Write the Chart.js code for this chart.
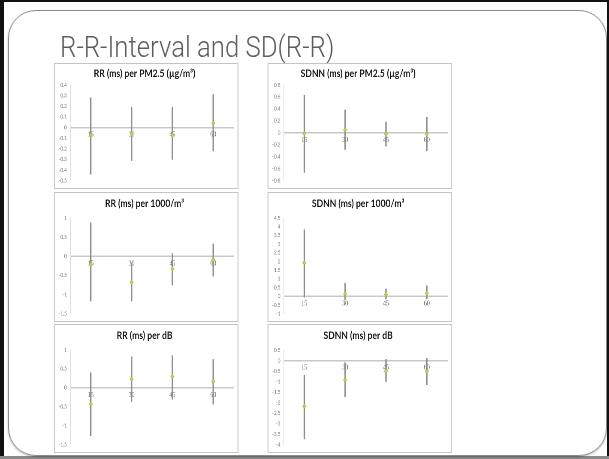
<!DOCTYPE html>
<html>
<head>
<meta charset="utf-8">
<script src="https://cdn.jsdelivr.net/npm/chart.js@4.4.1/dist/chart.umd.min.js"></script>
<style>
  html, body { margin: 0; padding: 0; background: #fff; }
  #page { position: relative; width: 609px; height: 459px; overflow: hidden; background: #fff; }
  #frame { position: absolute; left: 0; top: 0; width: 603px; height: 457px; border-left: 4px solid #111; border-top: 2px solid #111; border-right: 2px solid #111; }
  #bottomband { position: absolute; left: 0; top: 456px; width: 609px; height: 3px; background: #8a8a8a; }
  #slide { position: absolute; left: 8px; top: 10px; width: 597px; height: 444px; border: 1px solid #8c8c8c; border-radius: 28px; box-shadow: 0 1px 2px rgba(0,0,0,0.3); }
  /* the slide content is laid out wider and squeezed horizontally, like the picture */
  #content { position: absolute; left: 0; top: 0; width: 710px; height: 459px; transform: scaleX(0.8577); transform-origin: 0 0; }
  #title { position: absolute; left: 70px; top: 29px; font-family: Roboto, "Liberation Sans", sans-serif; font-weight: 300; font-size: 30px; color: #5e5e5e; white-space: nowrap; }
  .panel { position: absolute; border: 1px solid #c4c4c4; background: #fff; }
  .panel canvas { display: block; }
</style>
</head>
<body>
<div id="page">
  <div id="frame"></div>
  <div id="bottomband"></div>
  <div id="slide"></div>
  <div id="content">
    <div id="title">R-R-Interval and SD(R-R)</div>
    <div class="panel" style="left:63px;top:63px"><canvas id="c1"></canvas></div>
    <div class="panel" style="left:312px;top:63px"><canvas id="c2"></canvas></div>
    <div class="panel" style="left:63px;top:192px"><canvas id="c3"></canvas></div>
    <div class="panel" style="left:312px;top:192px"><canvas id="c4"></canvas></div>
    <div class="panel" style="left:63px;top:324px"><canvas id="c5"></canvas></div>
    <div class="panel" style="left:312px;top:324px"><canvas id="c6"></canvas></div>
  </div>
</div>
<script>
// lag categories (minutes)
const categories = ['15', '30', '45', '60'];

// RR (ms) per PM2.5
const rrPmMean = [-0.07, -0.06, -0.07, 0.04];
const rrPmLow = [-0.44, -0.31, -0.30, -0.22];
const rrPmHigh = [0.28, 0.19, 0.19, 0.31];
const rrPmTicks = [0.4, 0.3, 0.2, 0.1, 0, -0.1, -0.2, -0.3, -0.4, -0.5];

// SDNN (ms) per PM2.5
const sdPmMean = [-0.01, 0.05, -0.02, -0.02];
const sdPmLow = [-0.66, -0.28, -0.22, -0.30];
const sdPmHigh = [0.63, 0.38, 0.18, 0.26];
const sdPmTicks = [0.8, 0.6, 0.4, 0.2, 0, -0.2, -0.4, -0.6, -0.8];

// RR (ms) per 1000/m3
const rrUfMean = [-0.22, -0.68, -0.33, -0.10];
const rrUfLow = [-1.17, -1.17, -0.75, -0.52];
const rrUfHigh = [0.87, -0.17, 0.07, 0.32];
const rrUfTicks = [1, 0.5, 0, -0.5, -1, -1.5];

// SDNN (ms) per 1000/m3
const sdUfMean = [1.93, 0.13, 0.10, 0.17];
const sdUfLow = [-0.05, -0.20, -0.15, -0.15];
const sdUfHigh = [3.82, 0.75, 0.42, 0.60];
const sdUfTicks = [4.5, 4, 3.5, 3, 2.5, 2, 1.5, 1, 0.5, 0, -0.5, -1];

// RR (ms) per dB
const rrDbMean = [-0.43, 0.23, 0.30, 0.17];
const rrDbLow = [-1.26, -0.36, -0.30, -0.43];
const rrDbHigh = [0.40, 0.82, 0.85, 0.75];
const rrDbTicks = [1, 0.5, 0, -0.5, -1, -1.5];

// SDNN (ms) per dB
const sdDbMean = [-2.17, -0.92, -0.50, -0.52];
const sdDbLow = [-3.72, -1.72, -1.00, -1.15];
const sdDbHigh = [-0.70, -0.10, 0.05, 0.10];
const sdDbTicks = [0.5, 0, -0.5, -1, -1.5, -2, -2.5, -3, -3.5, -4];

function makeChart(id, w, h, title, mean, low, high, ticks, pad) {
  const cv = document.getElementById(id);
  cv.width = w; cv.height = h;
  cv.style.width = w + 'px'; cv.style.height = h + 'px';
  const ranges = low.map((l, i) => [l, high[i]]);
  return new Chart(cv.getContext('2d'), {
    type: 'bar',
    data: {
      labels: categories,
      datasets: [{
        type: 'line',
        data: mean,
        showLine: false,
        pointStyle: 'rectRot',
        pointRadius: 2,
        pointBackgroundColor: '#cfcf52',
        pointBorderColor: '#a7b545',
        pointBorderWidth: 0.6,
        order: 0
      }, {
        data: ranges,
        backgroundColor: '#8e8e8e',
        barThickness: 1,
        borderSkipped: false,
        order: 1
      }]
    },
    options: {
      responsive: false,
      animation: false,
      devicePixelRatio: 2,
      layout: { padding: { left: 0, right: 4, bottom: pad.bottom, top: 0 } },
      scales: {
        x: {
          position: { y: 0 },
          grid: { display: false, drawTicks: false },
          border: { color: '#c8c8c8', width: 1.5 },
          ticks: { color: '#666', padding: 3, font: { family: 'Liberation Serif', size: 7 } }
        },
        y: {
          min: ticks[ticks.length - 1],
          max: ticks[0],
          afterBuildTicks: s => { s.ticks = ticks.map(v => ({ value: v })); },
          afterFit: s => { s.width = 18; },
          grid: { display: false, drawTicks: false },
          border: { color: '#e0e0e0', width: 1 },
          ticks: { color: '#777', padding: 4, autoSkip: false, font: { family: 'Lato', size: 5.5 },
            callback: v => String(+v.toFixed(2)) }
        }
      },
      plugins: {
        legend: { display: false },
        tooltip: { enabled: false },
        title: {
          display: true,
          text: title,
          color: '#1a1a1a',
          font: { family: 'Lato', weight: 'bold', size: 10 },
          padding: { top: pad.top, bottom: pad.title }
        }
      }
    }
  });
}

const padRow1 = { top: 4, title: 5, bottom: 5 };
const padRow2 = { top: 5, title: 8, bottom: 6 };
const padRow3 = { top: 5, title: 8, bottom: 4 };

makeChart('c1', 213, 124, 'RR (ms) per PM2.5 (µg/m³)', rrPmMean, rrPmLow, rrPmHigh, rrPmTicks, padRow1);
makeChart('c2', 213, 124, 'SDNN (ms) per PM2.5 (µg/m³)', sdPmMean, sdPmLow, sdPmHigh, sdPmTicks, padRow1);
makeChart('c3', 213, 128, 'RR (ms) per 1000/m³', rrUfMean, rrUfLow, rrUfHigh, rrUfTicks, padRow2);
makeChart('c4', 213, 128, 'SDNN (ms) per 1000/m³', sdUfMean, sdUfLow, sdUfHigh, sdUfTicks, padRow2);
makeChart('c5', 213, 127, 'RR (ms) per dB', rrDbMean, rrDbLow, rrDbHigh, rrDbTicks, padRow3);
makeChart('c6', 213, 127, 'SDNN (ms) per dB', sdDbMean, sdDbLow, sdDbHigh, sdDbTicks, padRow3);
</script>
</body>
</html>
